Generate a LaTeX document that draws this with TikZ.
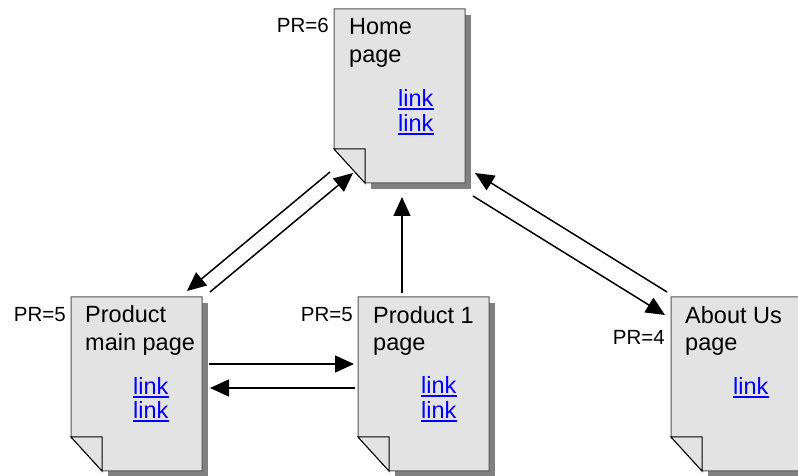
\documentclass[tikz,border=0pt]{standalone}
\usepackage{fontspec}
\setmainfont{Liberation Sans}
\usetikzlibrary{arrows.meta}
\definecolor{pagefill}{RGB}{227,227,227}
\definecolor{pageedge}{RGB}{85,85,85}
\definecolor{shadowc}{RGB}{128,128,128}
\definecolor{linkc}{RGB}{0,0,255}
\newcommand\drawdocpage[1]{%
  \begin{scope}[shift={(#1.south west)}]
    \fill[shadowc] (37,-6) rectangle (137,168);
    \filldraw[fill=pagefill, draw=pageedge, line width=1pt] (0,34) -- (0,174) -- (131,174) -- (131,0) -- (31,0) -- cycle;
    \filldraw[fill=pagefill, draw=black, line width=1pt] (0,34) -- (31,34) -- (31,0) -- cycle;
  \end{scope}}
\begin{document}
\begin{tikzpicture}[x=1pt,y=1pt,
  pagebox/.style={minimum width=131pt, minimum height=174pt, inner sep=0pt, outer sep=0pt, draw=none, anchor=north west},
  ptext/.style={anchor=base west, inner sep=0pt, font=\fontsize{23.5}{28}\selectfont},
  ltext/.style={ptext, text=linkc,
    append after command={([yshift=-2pt]\tikzlastnode.south west) edge[draw=linkc, line width=1.4pt] ([yshift=-2pt]\tikzlastnode.south east)}},
  prtext/.style={anchor=base east, inner sep=0pt, font=\fontsize{20.5}{24}\selectfont},
  linkarrow/.style={line width=1.5pt, -{Triangle[length=19pt,width=17pt]}}
]
\useasboundingbox (0,0) rectangle (798,476);
\fill[white] (0,0) rectangle (798,476);

% pages
\node[pagebox] (home) at (334,467) {};
\node[pagebox] (prodmain) at (71,179) {};
\node[pagebox] (prodone) at (358,179) {};
\node[pagebox] (about) at (671,179) {};
\drawdocpage{home}
\drawdocpage{prodmain}
\drawdocpage{prodone}
\drawdocpage{about}

% home texts
\node[ptext] (homet1) at (349,441) {Home};
\node[ptext] (homet2) at (349,413) {page};
\node[ltext] (homel1) at (398,369) {link};
\node[ltext] (homel2) at (398,344) {link};
\node[prtext] (homepr) at (329,443) {PR=6};

% product main texts
\node[ptext] (pmt1) at (85,153) {Product};
\node[ptext] (pmt2) at (85,125) {main page};
\node[ltext] (pml1) at (133,81) {link};
\node[ltext] (pml2) at (133,57) {link};
\node[prtext] (pmpr) at (66,154) {PR=5};

% product 1 texts
\node[ptext] (p1t1) at (373,152) {Product 1};
\node[ptext] (p1t2) at (373,125) {page};
\node[ltext] (p1l1) at (421,82) {link};
\node[ltext] (p1l2) at (421,57) {link};
\node[prtext] (p1pr) at (353,154) {PR=5};

% about texts
\node[ptext] (abt1) at (685,152) {About Us};
\node[ptext] (abt2) at (685,125) {page};
\node[ltext] (abl1) at (733,81) {link};
\node[prtext] (abpr) at (665,131) {PR=4};

% arrow end points
\coordinate (a1s) at (210,184); \coordinate (a1e) at (353,303);
\coordinate (a2s) at (330,304); \coordinate (a2e) at (187,185);
\coordinate (a3s) at (402,183); \coordinate (a3e) at (402,279);
\coordinate (a4s) at (667,184); \coordinate (a4e) at (475,303);
\coordinate (a5s) at (473,280); \coordinate (a5e) at (665,161);
\coordinate (h1s) at (209,112); \coordinate (h1e) at (354,112);
\coordinate (h2s) at (355,88);  \coordinate (h2e) at (210,88);

\draw[linkarrow] (a1s) -- (a1e);
\draw[linkarrow] (a2s) -- (a2e);
\draw[linkarrow] (a3s) -- (a3e);
\draw[linkarrow] (a4s) -- (a4e);
\draw[linkarrow] (a5s) -- (a5e);
\draw[linkarrow] (h1s) -- (h1e);
\draw[linkarrow] (h2s) -- (h2e);
\end{tikzpicture}
\end{document}
